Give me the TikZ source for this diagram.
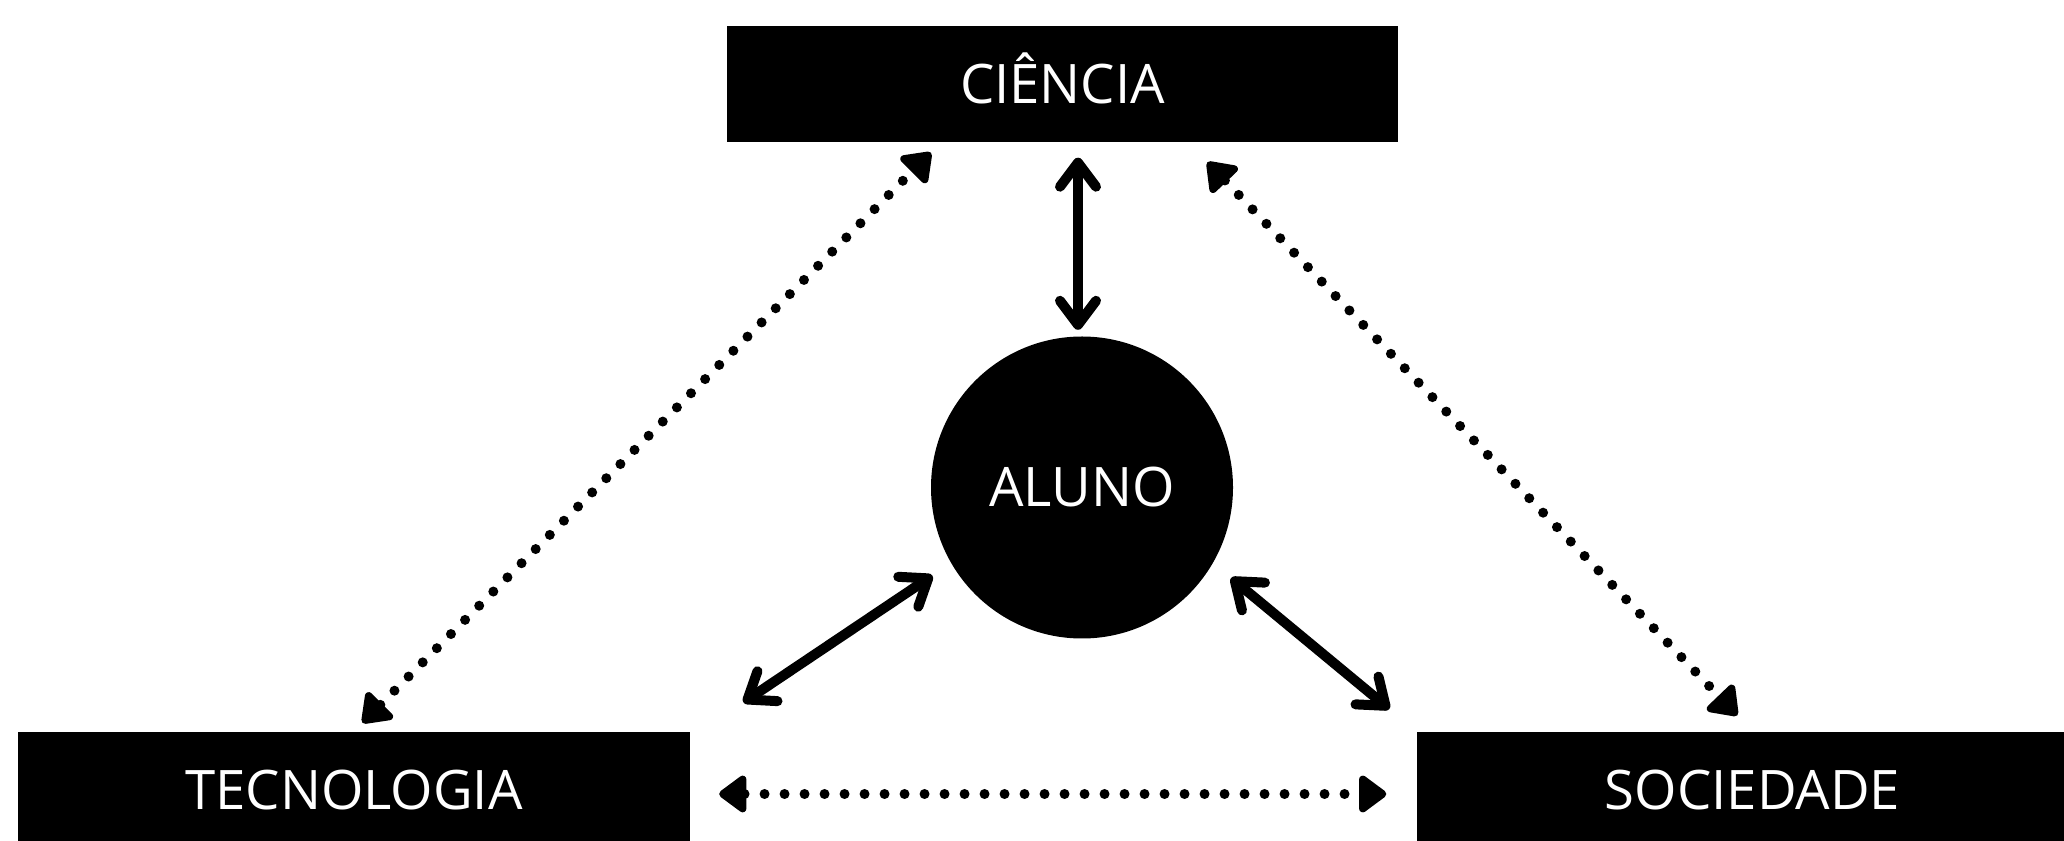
\documentclass[tikz,border=0pt]{standalone}
\usepackage{fontspec}
\setmainfont{Open Sans}
\usetikzlibrary{arrows.meta}

\begin{document}
\begin{tikzpicture}[
    box/.style={rectangle, fill=black, text=white, minimum width=6.71cm, minimum height=1.16cm, text height=0.39cm, text depth=0pt, inner sep=0pt, font=\fontsize{15.5}{19}\selectfont},
    ball/.style={circle, fill=black, text=white, minimum size=3.02cm, text height=0.39cm, text depth=0pt, inner sep=0pt, font=\fontsize{15.5}{19}\selectfont},
    link/.style={{Straight Barb[round, length=0.24cm, width=0.36cm]}-{Straight Barb[round, length=0.24cm, width=0.36cm]}, line width=0.1cm, line cap=round},
    dotlink/.style={{Triangle[round, length=0.3cm, width=0.42cm]}-{Triangle[round, length=0.3cm, width=0.42cm]}, line width=0.1cm, line cap=round, dash pattern=on 0pt off 0.2cm}
]
\useasboundingbox (0,0) rectangle (20.64,8.40);
\clip (0,0) rectangle (20.64,8.40);

\node[box] (cien) at (10.625,7.56) {CIÊNCIA};
\node[ball] (aluno) at (10.82,3.525) {ALUNO};
\node[box] (tec) at (3.54,0.50) {TECNOLOGIA};
\node[box] (soc) at (17.525,0.50) {SOCIEDADE};

\draw[link, shorten <=0.15cm, shorten >=0.06cm] ([xshift=-0.04cm]aluno.north |- cien.south) -- ([xshift=-0.04cm]aluno.north);
\draw[link, shorten <=0.22cm, shorten >=0.52cm] (aluno.210) -- ([xshift=0.1cm]tec.north east);
\draw[link, shorten <=0.23cm, shorten >=0.35cm] (aluno.-30) -- (soc.north west);

\draw[dotlink, shorten <=0.12cm, shorten >=0.14cm] (tec.north) -- ([xshift=2.145cm]cien.south west);
\draw[dotlink, shorten <=0.27cm, shorten >=0.22cm] ([xshift=-2.1cm]cien.south east) -- (soc.north);
\draw[dotlink, shorten <=0.29cm, shorten >=0.30cm] ([yshift=-0.04cm]tec.east) -- ([yshift=-0.04cm]soc.west);

\end{tikzpicture}
\end{document}
